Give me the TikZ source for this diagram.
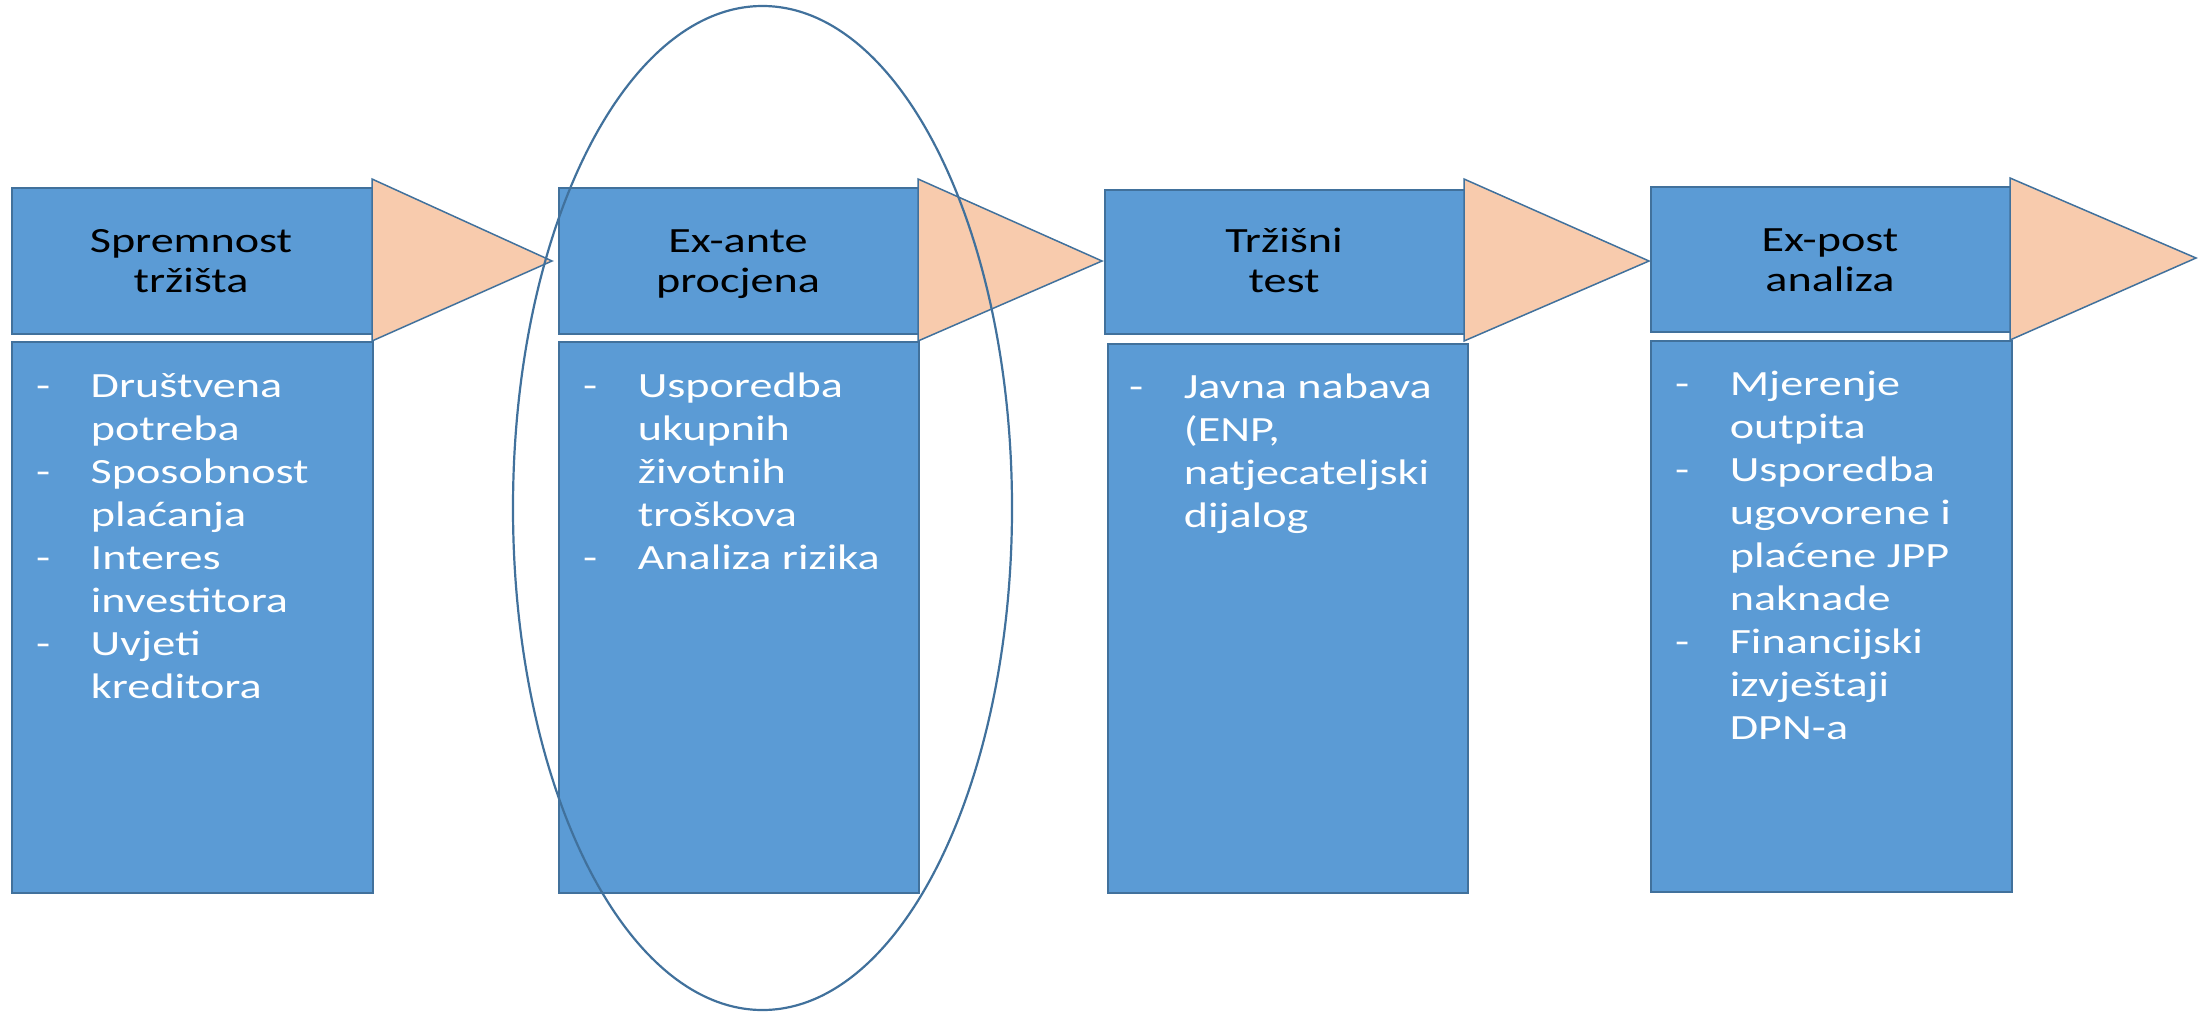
\documentclass[tikz,border=0pt]{standalone}
\usepackage{fontspec}
\usetikzlibrary{shapes.geometric}
\setmainfont{Carlito}
\definecolor{boxfill}{HTML}{5B9BD5}
\definecolor{boxline}{HTML}{41719C}
\definecolor{arrfill}{HTML}{F8CBAD}
\newcommand\hd[1]{\scalebox{1.3}[1]{\parbox[t]{250pt}{\centering\fontsize{35.5}{40}\selectfont #1}}}
\newcommand\bd[1]{\scalebox{1.3}[1]{\parbox[t]{260pt}{\raggedright\fontsize{35.5}{43}\selectfont #1}}}
\newcommand\itm[1]{\makebox[42pt][l]{-}#1}
\newcommand\cnt[1]{\hspace*{42pt}#1}
\tikzset{
  panel/.style={draw=boxline, fill=boxfill, line width=2pt, anchor=north west, inner sep=0pt},
  hdrtext/.style={anchor=base, inner sep=0pt, text=black},
  bodytext/.style={anchor=base west, inner sep=0pt, text=white},
  tri/.style={draw=boxline, fill=arrfill, line width=1.5pt, line join=miter},
  ring/.style={draw=boxline, line width=2.2pt},
}
\begin{document}
\begin{tikzpicture}[x=1pt,y=-1pt]
\useasboundingbox (0,0) rectangle (2210,1012);
% headers
\node[panel, minimum width=361pt, minimum height=146pt] (h1) at (11,187) {};
\node[panel, minimum width=360pt, minimum height=146pt] (h2) at (558,187) {};
\node[panel, minimum width=360pt, minimum height=144pt] (h3) at (1104,189) {};
\node[panel, minimum width=360pt, minimum height=145pt] (h4) at (1650,186) {};
% bodies
\node[panel, minimum width=361pt, minimum height=551pt] (b1) at (11,341) {};
\node[panel, minimum width=360pt, minimum height=551pt] (b2) at (558,341) {};
\node[panel, minimum width=360pt, minimum height=549pt] (b3) at (1107,343) {};
\node[panel, minimum width=361pt, minimum height=551pt] (b4) at (1650,340) {};
% arrow triangles
\coordinate (t1a) at (372,179); \coordinate (t1b) at (552,261); \coordinate (t1c) at (372,341);
\coordinate (t2a) at (918,179); \coordinate (t2b) at (1102,261); \coordinate (t2c) at (918,341);
\coordinate (t3a) at (1464,179); \coordinate (t3b) at (1649,261); \coordinate (t3c) at (1464,341);
\coordinate (t4a) at (2010,178); \coordinate (t4b) at (2196,258); \coordinate (t4c) at (2010,340);
\draw[tri] (t1a) -- (t1b) -- (t1c) -- cycle;
\draw[tri] (t2a) -- (t2b) -- (t2c) -- cycle;
\draw[tri] (t3a) -- (t3b) -- (t3c) -- cycle;
\draw[tri] (t4a) -- (t4b) -- (t4c) -- cycle;
% header texts
\node[hdrtext] (ht1) at (191,252) {\hd{Spremnost\\tržišta}};
\node[hdrtext] (ht2) at (738,252) {\hd{Ex-ante\\procjena}};
\node[hdrtext] (ht3) at (1284,252) {\hd{Tržišni\\test}};
\node[hdrtext] (ht4) at (1830,251) {\hd{Ex-post\\analiza}};
% body texts
\node[bodytext] (bt1) at (36,397) {\bd{\itm{Društvena}\\\cnt{potreba}\\\itm{Sposobnost}\\\cnt{plaćanja}\\\itm{Interes}\\\cnt{investitora}\\\itm{Uvjeti}\\\cnt{kreditora}}};
\node[bodytext] (bt2) at (583,397) {\bd{\itm{Usporedba}\\\cnt{ukupnih}\\\cnt{životnih}\\\cnt{troškova}\\\itm{Analiza rizika}}};
\node[bodytext] (bt3) at (1129,398) {\bd{\itm{Javna nabava}\\\cnt{(ENP,}\\\cnt{natjecateljski}\\\cnt{dijalog}}};
\node[bodytext] (bt4) at (1675,395) {\bd{\itm{Mjerenje}\\\cnt{outpita}\\\itm{Usporedba}\\\cnt{ugovorene i}\\\cnt{plaćene JPP}\\\cnt{naknade}\\\itm{Financijski}\\\cnt{izvještaji}\\\cnt{DPN-a}}};
% highlight ellipse
\node[ring, ellipse, minimum width=499pt, minimum height=1004pt, inner sep=0pt] (ring) at (762.5,508) {};
\end{tikzpicture}
\end{document}
